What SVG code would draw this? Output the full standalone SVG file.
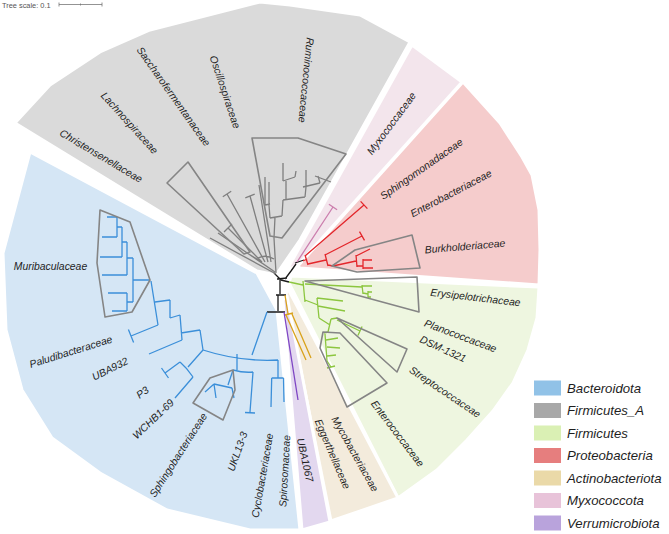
<svg xmlns="http://www.w3.org/2000/svg" width="669" height="534" viewBox="0 0 669 534">
<style>
.sec{stroke:#fff;stroke-width:3;stroke-linejoin:round}
.lbl{font-family:"Liberation Sans",Arial,sans-serif;font-style:italic;font-size:10.4px;fill:#1e1e1e;text-anchor:middle;dominant-baseline:central}
.br{fill:none;stroke-width:1.3;stroke-linecap:butt;stroke-linejoin:round}
.k{stroke:#1a1a1a}.g{stroke:#7f7f7f}.b{stroke:#3b8fd9}.r{stroke:#e3262b}.m{stroke:#cc7fae}.gr{stroke:#8cc63f}.t{stroke:#d9a21b}.p{stroke:#7e45c4}
.ol{fill:none;stroke:#858585;stroke-width:1.6;stroke-linejoin:round}
.leg{font-family:"Liberation Sans",Arial,sans-serif;font-style:italic;font-size:13.2px;fill:#1e1e1e}
</style>
<rect width="669" height="534" fill="#fff"/>
<g id="sectors">
<polygon class="sec" fill="#dadada" points="276,275 300,240 410,42 360,15 290,5 260,2 150,30 100,52 50,85 15,123 257,271"/>
<polygon class="sec" fill="#f3e5ec" points="287,270 412,45 462,82 297,266"/>
<polygon class="sec" fill="#f5cccc" points="298,266 463,82 500,123 522,157 532,175 539,210 540,250 539,285 300,268"/>
<polygon class="sec" fill="#eef6e0" points="291,276 539,287 537,318 528,350 513,383 493,411 467,440 437,470 398,498 289,283"/>
<polygon class="sec" fill="#f3ebdc" points="287,287 398,498 331,521 286,296"/>
<polygon class="sec" fill="#e3d8ef" points="283,300 287,296 330,522 302,530"/>
<polygon class="sec" fill="#d5e6f5" points="257,273 30,152 3,253 6,330 22,390 52,438 100,473 167,510 250,530 300,530 277,310"/>
</g>
<g id="scale">
<text x="2" y="7.5" font-family="Liberation Sans, Arial, sans-serif" font-size="7.4" fill="#555">Tree scale: 0.1</text>
<path d="M59,4.5 H102 M59,2.5 V6.5 M102,2.5 V6.5 M80.5,3.5 V5.5" stroke="#777" stroke-width="0.8" fill="none"/>
</g>
<g id="connectors">
<path class="br k" d="M274,273 L281,280 M277,279 L287,278 M285,279 L291,271 L296,264 M295,263 L304,260 M281,280 L289,282 M280,280 L280,294 M276,295 L286,295 M278,295 L278,311 M267,312 L285,312"/>
<path class="br g" d="M276,274 L210,238 M275,272 L218,233 M262,262 L228,228 M224,232 L232,224 M265,262 L227,194 M222.8,196.7 L231.2,191.3 M268,262 L250,196 M245.3,197.8 L254.7,194.2 M271,262 L259,185 M247,253 L262,262 M258,258 Q266,254 274,259 M274,238 L276,273"/>
<path class="br g" d="M274,238 L275,217 M270,218 L282,216 M270,218 L269,205 M265,205 L270,204 M265,205 L265,177 M269,204 L269,182 M282,216 L283,200 M283,200 L305,197 M286,199 L286,181 M283,181 L295,177 M283,181 L283,163 M295,177 L296,171 M305,197 L306,187 M303,187 L320,183 M306,187 L306,170 M320,183 L318,176 M315,176 L331,182"/>
<path class="br m" d="M297,262 L333,207 M328.9,204.2 L337.1,209.8"/>
<path class="br r" d="M303,261 L307,259 M305,255 L308,265 M305,256 L364,205 M360.6,201.4 L367.4,208.6 M308,264 L326,260 M325,254 L328,266 M325,255 L362,236 M359.5,231.7 L364.5,240.3 M328,265 L333,266 M333,266 L356,261 M356,255 L357,267 M356,256 L370,249 M357,266 L363,266 M363,259 L363,269 M363,260 L372,260 M363,268 L373,268"/>
<path class="br gr" d="M289,282 L303,285 M303,281 L305,302 M305,284 L362,287 M362,285 L363,294 M362,286 L372,286 M363,293 L368,294 M368,291 L368,298 M368,292 L372,292 M368,297 L371,297 M305,300 L318,305 M317,298 L319,318 M317,298 L343,301 M318,306 L345,311 M319,318 L330,325 M331,319 L328,332 M331,319 L337,318 M328,332 L324,333 M337,320 L360,331 M357.9,335.5 L362.1,326.5 M325,334 L327,361 M326,340 L338,338 M327,347 L340,348 M327,356 L336,355 M327,361 L331,367 M327,368 L335,366"/>
<path class="br t" d="M285,295 L288,314 M285,315 L293,313 M286,315 L306,360 M292,314 L311,358"/>
<path class="br p" d="M284,312 L298,400"/>
<path class="br b" d="M267,312 L252,355 M203,350 Q240,362 278,360 M278,360 L278,378 M271.7,378 L283.5,378 M271.7,378 L271,407 M283.5,378 L284,402 M237,354 L237,370 M233,370 Q244,373 253,372 M253,372 L250,412 M245,412.5 L255,413 M233,370 L228,385 M214,384 L232,388 M214,384 L205,392 M214,384 L216,398 M232,388 L234,398"/>
<path class="br b" d="M203,350 L200,330 M200,330 L181,333 M180,315 L182,340 M170,318 L180,315 M182,340 L149,354 M170,300 L170,318 M155,302 L170,300 M151,281 L158,325 M158,325 L131,336 M128.4,329.5 L133.6,342.5 M203,350 L188,367 M180,362 Q187,368 193,377 M180,362 L165,373 M161.5,368 L168.5,378 M193,377 L175,398"/>
<path class="br b" d="M150,280 H133 M133,258 V302 M133,258 H127 M127,242 V275 M127,242 H122 M122,227 V257 M122,227 H117 M117,217 V237 M117,217 H107 M117,237 H102 M122,257 H100 M127,275 H102 M133,302 H127 M127,293 V311 M127,293 H108 M127,311 H112"/>
</g>
<g id="ruminococcaceae"><polygon class="ol" points="252,138 298,138 346,154 282,238 270,236"/><text class="lbl" transform="translate(306,80) rotate(95.6)">Ruminococcaceae</text></g>
<g id="oscillospiraceae"><text class="lbl" transform="translate(225,92) rotate(71.5)">Oscillospiraceae</text></g>
<g id="saccharofermentanaceae"><text class="lbl" transform="translate(173.5,96.5) rotate(54.7)">Saccharofermentanaceae</text></g>
<g id="lachnospiraceae"><polygon class="ol" points="167,183 188,162 250,252 244,254"/><text class="lbl" transform="translate(129.5,123) rotate(47.8)">Lachnospiraceae</text></g>
<g id="christensenellaceae"><text class="lbl" transform="translate(101,156) rotate(30.7)">Christensenellaceae</text></g>
<g id="myxococcaceae"><text class="lbl" transform="translate(391.5,123.5) rotate(-53.3)">Myxococcaceae</text></g>
<g id="sphingomonadaceae"><text class="lbl" transform="translate(421.5,169) rotate(-34.9)">Sphingomonadaceae</text></g>
<g id="enterobacteriaceae"><text class="lbl" transform="translate(451,193.5) rotate(-27.7)">Enterobacteriaceae</text></g>
<g id="burkholderiaceae"><polygon class="ol" points="332,266 355,250 412,235 420,268 357,272"/><text class="lbl" transform="translate(465,246.5) rotate(-4.9)">Burkholderiaceae</text></g>
<g id="erysipelotrichaceae"><polygon class="ol" points="305,281 417,277 419,312"/><text class="lbl" transform="translate(475.5,297.5) rotate(6.7)">Erysipelotrichaceae</text></g>
<g id="planococcaceae"><text class="lbl" transform="translate(460.5,336) rotate(20.5)">Planococcaceae</text></g>
<g id="dsm1321"><text class="lbl" transform="translate(443,349) rotate(24.6)">DSM-1321</text></g>
<g id="streptococcaceae"><polygon class="ol" points="337,318 407,349 397,372"/><text class="lbl" transform="translate(445,392) rotate(34)">Streptococcaceae</text></g>
<g id="enterococcaceae"><polygon class="ol" points="323,332 340,333 387,383 347,407 320,348"/><text class="lbl" transform="translate(397.5,433.5) rotate(52.7)">Enterococcaceae</text></g>
<g id="mycobacteriaceae"><text class="lbl" transform="translate(355,454) rotate(60.6)">Mycobacteriaceae</text></g>
<g id="eggerthellaceae"><text class="lbl" transform="translate(332.5,454) rotate(66.7)">Eggerthellaceae</text></g>
<g id="uba1067"><text class="lbl" transform="translate(305,460) rotate(77.5)">UBA1067</text></g>
<g id="spirosomaceae"><text class="lbl" transform="translate(284.7,471) rotate(-86.8)">Spirosomaceae</text></g>
<g id="cyclobacteriaceae"><text class="lbl" transform="translate(262.5,475.5) rotate(-80)">Cyclobacteriaceae</text></g>
<g id="ukl13-3"><text class="lbl" transform="translate(237.5,451.5) rotate(-70.6)">UKL13-3</text></g>
<g id="sphingobacteriaceae"><polygon class="ol" points="193,403 210,378 233,370 235,390 223,420"/><text class="lbl" transform="translate(178.3,455) rotate(-57.4)">Sphingobacteriaceae</text></g>
<g id="wchb1-69"><text class="lbl" transform="translate(153.3,419) rotate(-43.6)">WCHB1-69</text></g>
<g id="p3"><text class="lbl" transform="translate(142.5,392.5) rotate(-35.9)">P3</text></g>
<g id="uba932"><text class="lbl" transform="translate(110,369) rotate(-26.6)">UBA932</text></g>
<g id="paludibacteraceae"><text class="lbl" transform="translate(70.8,351.7) rotate(-17.4)">Paludibacteraceae</text></g>
<g id="muribaculaceae"><polygon class="ol" points="100,210 130,222 150,280 132,312 105,317 97,263"/><text class="lbl" transform="translate(50.5,266)">Muribaculaceae</text></g>
<g id="legend">
<g id="leg-bacteroidota"><rect x="534" y="380.5" width="27" height="15" fill="#91c2e7"/><text class="leg" x="567" y="392.8">Bacteroidota</text></g>
<g id="leg-firmicutes-a"><rect x="534" y="403" width="27" height="15" fill="#a8a8a8"/><text class="leg" x="567" y="415.3">Firmicutes_A</text></g>
<g id="leg-firmicutes"><rect x="534" y="425.5" width="27" height="15" fill="#daf0b4"/><text class="leg" x="567" y="437.8">Firmicutes</text></g>
<g id="leg-proteobacteria"><rect x="534" y="448" width="27" height="15" fill="#e67e7e"/><text class="leg" x="567" y="460.3">Proteobacteria</text></g>
<g id="leg-actinobacteriota"><rect x="534" y="470.5" width="27" height="15" fill="#ead9a8"/><text class="leg" x="567" y="482.8">Actinobacteriota</text></g>
<g id="leg-myxococcota"><rect x="534" y="493" width="27" height="15" fill="#e8c3d9"/><text class="leg" x="567" y="505.3">Myxococcota</text></g>
<g id="leg-verrumicrobiota"><rect x="534" y="515.5" width="27" height="15" fill="#b9a3dc"/><text class="leg" x="567" y="527.8">Verrumicrobiota</text></g>
</g>
</svg>
